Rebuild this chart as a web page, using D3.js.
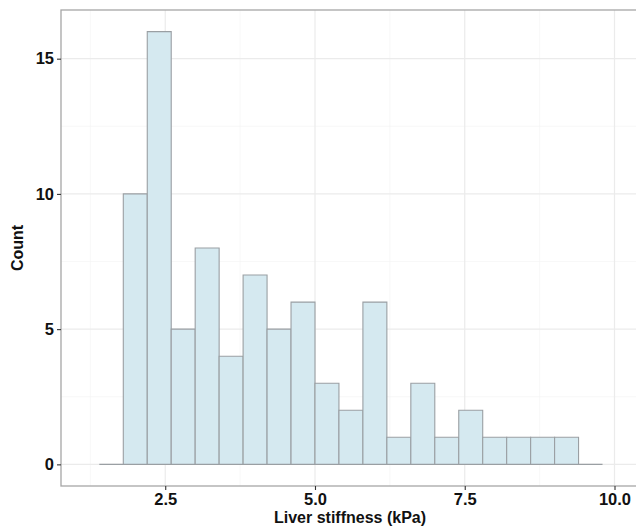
<!DOCTYPE html>
<html>
<head>
<meta charset="utf-8">
<script src="https://cdnjs.cloudflare.com/ajax/libs/d3/7.8.5/d3.min.js"></script>
<style>
  body { margin: 0; background: #fff; }
  svg { display: block; font-family: "Liberation Sans", Arial, sans-serif; }
</style>
</head>
<body>
<div id="chart"></div>
<script>
var w = 636, h = 526;

// histogram bins (kPa), width 0.4
var binStart = [1.4, 1.8, 2.2, 2.6, 3.0, 3.4, 3.8, 4.2, 4.6, 5.0, 5.4, 5.8, 6.2, 6.6, 7.0, 7.4, 7.8, 8.2, 8.6, 9.0, 9.4];
var counts   = [0, 10, 16, 5, 8, 4, 7, 5, 6, 3, 2, 6, 1, 3, 1, 2, 1, 1, 1, 1, 0];
var binWidth = 0.4;
var xTicks = [2.5, 5.0, 7.5, 10.0];
var xMinor = [1.25, 3.75, 6.25, 8.75];
var yTicks = [0, 5, 10, 15];
var yMinor = [2.5, 7.5, 12.5];

var margin = {left: 61, top: 10, bottom: 40};
var panelRight = 645;

var x = d3.scaleLinear().domain([0.76, 10.0]).range([margin.left, 614.5]);
var y = d3.scaleLinear().domain([-0.8, 16.8]).range([h - margin.bottom, margin.top]);

var svg = d3.select("#chart").append("svg").attr("width", w).attr("height", h);

// grid
var grid = svg.append("g");
grid.selectAll(".xminor").data(xMinor).enter().append("line")
  .attr("x1", function(d) { return x(d); }).attr("x2", function(d) { return x(d); })
  .attr("y1", y.range()[0]).attr("y2", y.range()[1])
  .attr("stroke", "#f3f3f3").attr("stroke-width", 0.6);
grid.selectAll(".yminor").data(yMinor).enter().append("line")
  .attr("y1", function(d) { return y(d); }).attr("y2", function(d) { return y(d); })
  .attr("x1", margin.left).attr("x2", panelRight)
  .attr("stroke", "#f3f3f3").attr("stroke-width", 0.6);
grid.selectAll(".xmajor").data(xTicks).enter().append("line")
  .attr("x1", function(d) { return x(d); }).attr("x2", function(d) { return x(d); })
  .attr("y1", y.range()[0]).attr("y2", y.range()[1])
  .attr("stroke", "#ebebeb").attr("stroke-width", 1.2);
grid.selectAll(".ymajor").data(yTicks).enter().append("line")
  .attr("y1", function(d) { return y(d); }).attr("y2", function(d) { return y(d); })
  .attr("x1", margin.left).attr("x2", panelRight)
  .attr("stroke", "#ebebeb").attr("stroke-width", 1.2);

// bars (paths, so empty bins still show as a baseline)
svg.selectAll(".bar").data(counts).enter().append("path")
  .attr("class", "bar")
  .attr("d", function(d, i) {
    var x0 = x(binStart[i]), x1 = x(binStart[i] + binWidth);
    return "M" + x0 + "," + y(0) + "V" + y(d) + "H" + x1 + "V" + y(0) + "Z";
  })
  .attr("fill", "#d5e9f0")
  .attr("stroke", "#9a9fa3")
  .attr("stroke-width", 1.1);

// panel border
svg.append("rect")
  .attr("x", margin.left).attr("y", y.range()[1])
  .attr("width", panelRight - margin.left)
  .attr("height", y.range()[0] - y.range()[1])
  .attr("fill", "none").attr("stroke", "#a6a6a6").attr("stroke-width", 1.3);

// axes
var xAxis = svg.append("g")
  .attr("transform", "translate(0," + y.range()[0] + ")")
  .call(d3.axisBottom(x).tickValues(xTicks).tickFormat(d3.format(".1f")).tickSizeOuter(0).tickSize(4).tickPadding(3));
var yAxis = svg.append("g")
  .attr("transform", "translate(" + margin.left + ",0)")
  .call(d3.axisLeft(y).tickValues(yTicks).tickSizeOuter(0).tickSize(4).tickPadding(3));
[xAxis, yAxis].forEach(function(a) {
  a.select(".domain").remove();
  a.selectAll(".tick line").attr("stroke", "#333").attr("stroke-width", 1.1);
  a.selectAll(".tick text").attr("fill", "#111").style("font-size", "16.5px").style("font-weight", "bold");
});

svg.append("text")
  .attr("x", 350)
  .attr("y", 523)
  .attr("text-anchor", "middle")
  .style("font-size", "16px").style("font-weight", "bold")
  .attr("fill", "#111")
  .text("Liver stiffness (kPa)");

svg.append("text")
  .attr("transform", "translate(23," + ((y.range()[0] + y.range()[1]) / 2) + ") rotate(-90)")
  .attr("text-anchor", "middle")
  .style("font-size", "16px").style("font-weight", "bold")
  .attr("fill", "#111")
  .text("Count");
</script>
</body>
</html>
